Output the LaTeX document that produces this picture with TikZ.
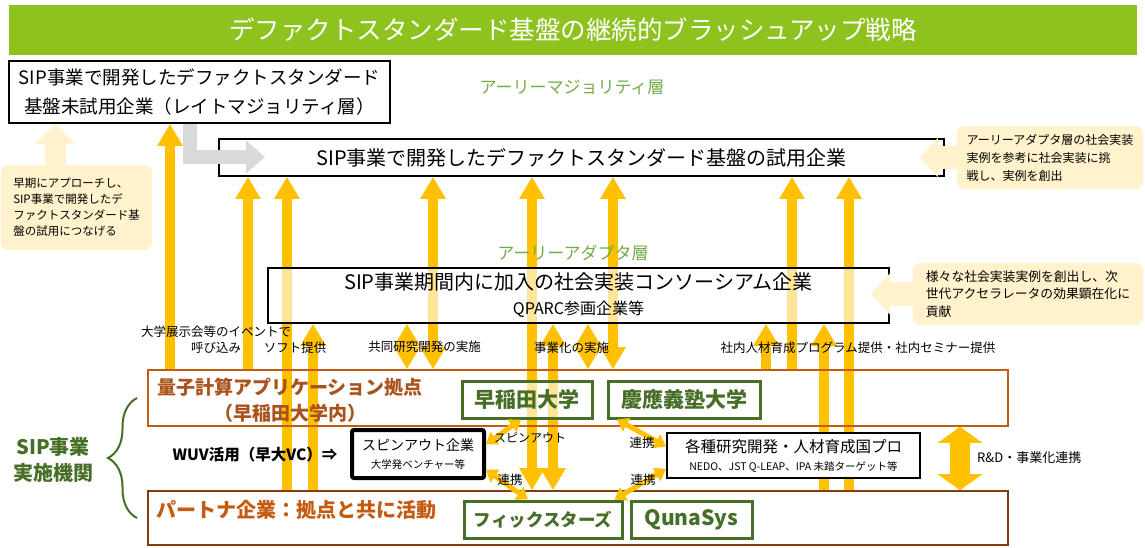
\documentclass[tikz,border=0pt]{standalone}
\usepackage{fontspec}
\setmainfont{Noto Sans CJK JP}
\usetikzlibrary{arrows.meta,backgrounds,decorations.pathreplacing}
\definecolor{titleGreen}{HTML}{8DC21F}
\definecolor{layerGreen}{HTML}{70AD47}
\definecolor{orgGreen}{HTML}{466E27}
\definecolor{hubOrange}{HTML}{C55A11}
\definecolor{partnerBrown}{HTML}{843C0C}
\definecolor{hubText}{HTML}{A9531B}
\definecolor{flowYellow}{HTML}{FFC000}
\definecolor{noteCream}{HTML}{FFF2CC}
\definecolor{arrowGray}{HTML}{D9D9D9}
\newcommand{\setfs}[2]{\fontsize{#1}{#2}\selectfont}

\begin{document}
\begin{tikzpicture}[x=1pt,y=-1pt]
	\tikzstyle{layer_box} = [rectangle, draw, line width=1.6pt, fill=white, align=center, inner sep=0pt]
	\tikzstyle{base_box} = [rectangle, draw=hubOrange, line width=1.6pt, inner sep=0pt]
	\tikzstyle{org_box} = [rectangle, draw=orgGreen, line width=3pt, fill=white, fill opacity=0.6, text opacity=1, text=orgGreen, inner sep=0pt]
	\tikzstyle{note_box} = [rectangle, rounded corners=7pt, fill=noteCream, align=left, inner sep=0pt]
	\tikzstyle{flow_up} = [draw=flowYellow, line width=10pt, -{Triangle[width=24pt,length=22pt]}]
	\tikzstyle{flow_both} = [draw=flowYellow, line width=10pt, {Triangle[width=24pt,length=22pt]}-{Triangle[width=24pt,length=22pt]}]
	\tikzstyle{link_both} = [draw=flowYellow, line width=5pt, {Triangle[width=15pt,length=11pt]}-{Triangle[width=15pt,length=11pt]}]
	\tikzstyle{small_label} = [inner sep=0pt, align=center, font=\setfs{12.5}{16}]

	\useasboundingbox (0,0) rectangle (1145,547);

	% Title bar
	\node (TT) [rectangle, fill=titleGreen, minimum width=1128pt, minimum height=50pt, text=white, font=\setfs{25.5}{30}] at (573,30) {デファクトスタンダード基盤の継続的ブラッシュアップ戦略};

	% Layers of user companies
	\node (LM) [layer_box, minimum width=381pt, minimum height=62pt, font=\setfs{18.5}{29}] at (199.5,92) {SIP事業で開発したデファクトスタンダード\\基盤未試用企業（レイトマジョリティ層）};
	\node (EM) [text=layerGreen, font=\setfs{17}{20}] at (572,87) {アーリーマジョリティ層};
	\node (TU) [layer_box, minimum width=725pt, minimum height=37pt, font=\setfs{20}{24}] at (581.5,157.5) {SIP事業で開発したデファクトスタンダード基盤の試用企業};
	\node (EA) [text=layerGreen, font=\setfs{17}{20}] at (573,253) {アーリーアダプタ層};
	\node (CS) [layer_box, fill opacity=0.6, text opacity=1, minimum width=621pt, minimum height=55pt, font=\setfs{20}{25}] at (578.5,295.5) {SIP事業期間内に加入の社会実装コンソーシアム企業\\{\setfs{16}{25}QPARC参画企業等}};

	% SIP implementing bodies
	\node (HUB) [base_box, minimum width=860pt, minimum height=56pt] at (578,398) {};
	\node (PT) [base_box, draw=partnerBrown, minimum width=860pt, minimum height=54pt] at (578,518) {};
	\node (HL) [text=hubText, align=center, font=\bfseries\setfs{19}{26}] at (290,400) {量子計算アプリケーション拠点\\（早稲田大学内）};
	\node (PL) [text=hubOrange, font=\bfseries\setfs{20}{24}] at (296,510) {パートナ企業：拠点と共に活動};
	\node (WU) [org_box, minimum width=130pt, minimum height=37pt, font=\bfseries\setfs{21}{24}] at (527,399.5) {早稲田大学};
	\node (KU) [org_box, minimum width=152pt, minimum height=37pt, font=\bfseries\setfs{21}{24}] at (684,399.5) {慶應義塾大学};
	\node (FX) [org_box, minimum width=158pt, minimum height=37pt, font=\bfseries\setfs{17.5}{24}] at (543,519.5) {フィックスターズ};
	\node (QS) [org_box, minimum width=121pt, minimum height=37pt, font=\bfseries\setfs{21}{24}] at (691.5,519.5) {QunaSys};
	\node (SO) [layer_box, line width=4pt, rounded corners=2pt, minimum width=132pt, minimum height=48pt, font=\setfs{14}{18}] at (418,454) {スピンアウト企業\\{\setfs{10.5}{18}大学発ベンチャー等}};
	\node (NP) [layer_box, line width=2pt, minimum width=253pt, minimum height=45pt, font=\setfs{15.5}{18}] at (793.5,455.5) {各種研究開発・人材育成国プロ\\{\setfs{10.5}{18}NEDO、JST Q-LEAP、IPA 未踏ターゲット等}};
	\node (WUV) [font=\bfseries\setfs{15.5}{18}] at (255,455) {WUV活用（早大VC）⇒};
	\node (SIP) [text=orgGreen, align=center, font=\bfseries\setfs{20}{26}] at (53,460) {SIP事業\\実施機関};
	\draw[orgGreen, line width=2pt, decorate, decoration={brace, amplitude=29pt}] (137,518) -- (137,398);

	% Notes
	\node (N1) [note_box, minimum width=151pt, minimum height=85pt, font=\setfs{11.5}{16}] at (76.5,207.5) {早期にアプローチし、\\SIP事業で開発したデ\\ファクトスタンダード基\\盤の試用につなげる};
	\node (N2) [note_box, minimum width=186pt, minimum height=63pt, font=\setfs{12}{18}] at (1050,157.5) {アーリーアダプタ層の社会実装\\実例を参考に社会実装に挑\\戦し、実例を創出};
	\node (N3) [note_box, minimum width=230pt, minimum height=62pt, font=\setfs{12.8}{17.5}] at (1028,294) {様々な社会実装実例を創出し、次\\世代アクセラレータの効果顕在化に\\貢献};
	\draw[draw=noteCream, line width=21pt, -{Triangle[width=39pt,length=20pt]}] (N1.north -| 55,0) -- (55,0 |- LM.south);
	\draw[draw=noteCream, line width=23pt, -{Triangle[width=38pt,length=18pt]}] (N2.west) -- ++(-37,0);
	\draw[draw=noteCream, line width=24pt, -{Triangle[width=40pt,length=19pt]}] (N3.west) -- ++(-42,0);

	% Gray arrow from late majority to trial users
	\coordinate (GT) at (265,157);
	\draw[draw=arrowGray, line width=14pt, -{Triangle[width=32pt,length=19pt]}] (189.5,0 |- LM.south) |- (GT);

	% Yellow flows
	\begin{scope}[on background layer]
	\foreach \x/\from/\to in {170/HUB/LM, 248/HUB/TU, 287/PT/TU, 313/PT/CS, 766/HUB/CS, 792/HUB/TU, 824/PT/CS, 849/PT/TU}
	\draw[flow_up] (\x,0 |- \from.north) -- (\x,0 |- \to.south);
	\foreach \x/\from/\to in {407/CS/HUB, 433/TU/HUB, 532/TU/PT, 553/CS/PT, 588/CS/HUB, 613/TU/HUB}
	\draw[flow_both] (\x,0 |- \from.south) -- (\x,0 |- \to.north);
	\end{scope}
	\draw[draw=flowYellow, line width=20pt, {Triangle[width=44pt,length=16pt]}-{Triangle[width=44pt,length=16pt]}] (960,0 |- HUB.south) -- (960,0 |- PT.north);
	\draw[link_both] (SO.8) -- ([xshift=-6pt]WU.south);
	\draw[link_both] (SO.-13) -- ([xshift=-15pt]FX.north);
	\draw[link_both] ([xshift=-67pt]KU.south) -- (NP.176);
	\draw[link_both] (NP.186) -- ([xshift=-15pt]QS.north west);

	% Labels
	\node (L1) [small_label] at (216,340) {大学展示会等のイベントで\\呼び込み};
	\node (L2) [small_label] at (295,348) {ソフト提供};
	\node (L3) [small_label] at (424.5,347) {共同研究開発の実施};
	\node (L4) [small_label] at (571.5,348) {事業化の実施};
	\node (L5) [small_label] at (858,348) {社内人材育成プログラム提供・社内セミナー提供};
	\node (L6) [small_label, font=\setfs{12}{14}] at (530,438) {スピンアウト};
	\node (L7) [small_label] at (510,480) {連携};
	\node (L8) [small_label] at (642,443) {連携};
	\node (L9) [small_label] at (643,480) {連携};
	\node (L10) [small_label, font=\setfs{13}{16}, anchor=west] at (977,458) {R\&D・事業化連携};
\end{tikzpicture}
\end{document}
